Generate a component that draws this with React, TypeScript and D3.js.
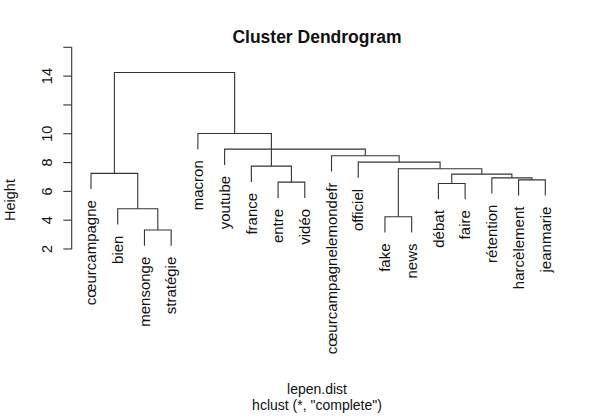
import React from "react"
import * as d3 from "d3"

// leaf labels in plotting order
const leaves = [
  "cœurcampagne",
  "bien",
  "mensonge",
  "stratégie",
  "macron",
  "youtube",
  "france",
  "entre",
  "vidéo",
  "cœurcampagnelemondefr",
  "officiel",
  "fake",
  "news",
  "débat",
  "faire",
  "rétention",
  "harcèlement",
  "jeanmarie",
]

// merges, hclust style: negative = leaf (-(index+1)), positive = earlier merge (1-based)
const mergeLeft = [-3, -2, -1, -12, -14, -8, -17, -16, 5, 4, -7, -11, -10, -6, -5, 3]
const mergeRight = [-4, 1, 2, -13, -15, -9, -18, 7, 8, 9, 6, 10, 12, 13, 11, 15]
const mergeHeight = [
  3.32, 4.79, 7.25, 4.24, 6.55, 6.64, 6.8, 6.94, 7.2, 7.57, 7.75, 8.03, 8.47,
  8.93, 10.02, 14.25,
]

const yTicks = [2, 4, 6, 8, 10, 12, 14, 16]
const yTickLabels = ["2", "4", "6", "8", "10", "", "14", ""]

const font = "'Liberation Sans', Arial, sans-serif"

export default function App() {
  const width = 600
  const height = 418
  const x = d3.scaleLinear().domain([0, leaves.length - 1]).range([91, 545.3])
  const y = d3.scaleLinear().domain([2, 16]).range([249, 47.3])
  const hang = 0.1 * (d3.max(mergeHeight)! - d3.min(mergeHeight)!)

  const nodeX: number[] = []
  const segs: string[] = []
  const labelY: number[] = []
  mergeHeight.forEach((h, i) => {
    const side = (k: number) => {
      if (k < 0) {
        const li = -k - 1
        labelY[li] = h - hang
        return { cx: x(li), cy: y(h - hang) }
      }
      return { cx: nodeX[k - 1], cy: y(mergeHeight[k - 1]) }
    }
    const l = side(mergeLeft[i])
    const r = side(mergeRight[i])
    const yy = y(h)
    segs.push(`M${l.cx},${l.cy}V${yy}H${r.cx}V${r.cy}`)
    nodeX[i] = (l.cx + r.cx) / 2
  })

  const axisX = 71.7
  return (
    <svg
      width={width}
      height={height}
      style={{ position: "absolute", left: 0, top: 0, background: "#fff" }}
      fontFamily={font}
    >
      <text x={317} y={43} textAnchor="middle" fontWeight="bold" fontSize={17.5} fill="#111">
        Cluster Dendrogram
      </text>
      <g stroke="#333" strokeWidth={1.1} fill="none">
        {segs.map((d, i) => (
          <path key={i} d={d} />
        ))}
      </g>
      <g fontSize={15} fill="#111">
        {leaves.map((name, i) => (
          <text
            key={name}
            transform={`translate(${x(i)},${y(labelY[i]) + 11}) rotate(-90)`}
            textAnchor="end"
            dy="0.35em"
          >
            {name}
          </text>
        ))}
      </g>
      <g stroke="#333" strokeWidth={1.1}>
        <line x1={axisX} x2={axisX} y1={y(yTicks[0])} y2={y(yTicks[yTicks.length - 1])} />
        {yTicks.map((t) => (
          <line key={t} x1={axisX - 8.4} x2={axisX} y1={y(t)} y2={y(t)} />
        ))}
      </g>
      <g fontSize={14.5} fill="#111">
        {yTicks.map((t, i) => (
          <text
            key={t}
            transform={`translate(46.7,${y(t)}) rotate(-90)`}
            textAnchor="middle"
            dy="0.35em"
          >
            {yTickLabels[i]}
          </text>
        ))}
        <text transform="translate(10,200) rotate(-90)" textAnchor="middle" dy="0.35em">
          Height
        </text>
      </g>
      <g fontSize={14} fill="#111">
        <text x={317} y={394} textAnchor="middle">
          lepen.dist
        </text>
        <text x={317} y={410} textAnchor="middle">
          hclust (*, "complete")
        </text>
      </g>
    </svg>
  )
}
